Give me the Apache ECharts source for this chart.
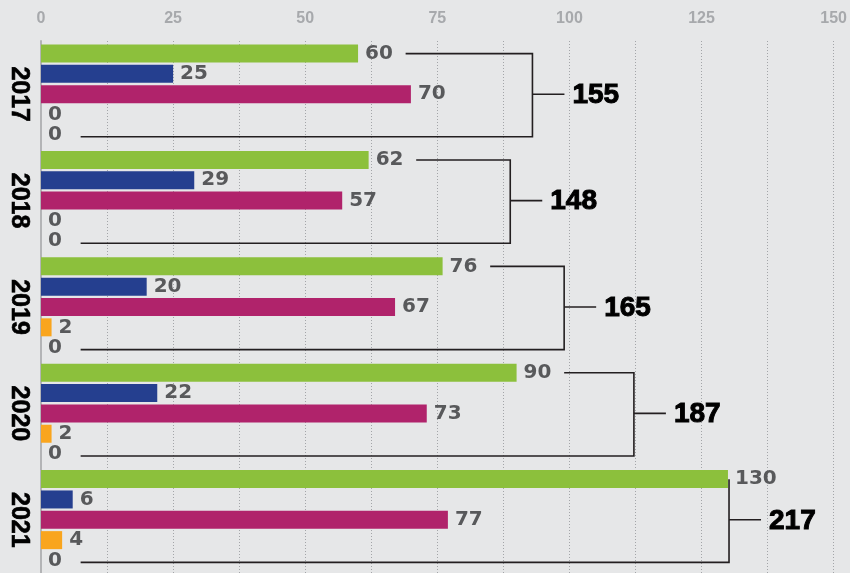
<!DOCTYPE html>
<html>
<head>
<meta charset="utf-8">
<script src="https://cdn.jsdelivr.net/npm/echarts@6/dist/echarts.min.js"></script>
<style>
html,body{margin:0;padding:0;background:#e6e7e8;}
#chart{width:850px;height:573px;}
</style>
</head>
<body>
<div id="chart"></div>
<script>
const years = ['2017', '2018', '2019', '2020', '2021'];
const green = [60, 62, 76, 90, 130];
const blue = [25, 29, 20, 22, 6];
const magenta = [70, 57, 67, 73, 77];
const orange = [0, 0, 2, 2, 4];
const fifth = [0, 0, 0, 0, 0];
const totals = [155, 148, 165, 187, 217];

const chart = echarts.init(document.getElementById('chart'));

const valueLabel = {
  show: true,
  position: 'right',
  distance: 7,
  color: '#58595b',
  fontFamily: 'DejaVu Sans',
  fontWeight: 'bold',
  fontSize: 20
};

function barSeries(name, data, color) {
  return {
    name: name,
    type: 'bar',
    data: data,
    barWidth: 18,
    barGap: '13%',
    itemStyle: { color: color },
    label: valueLabel,
    animation: false,
    z: 3
  };
}

const bracketData = years.map((y, i) => [green[i], i, totals[i]]);
const PITCH = 20.3;

const option = {
  backgroundColor: '#e6e7e8',
  animation: false,
  grid: { left: 41, right: 14, top: 41, height: 540 },
  xAxis: {
    type: 'value',
    position: 'top',
    min: 0,
    max: 150,
    interval: 12.5,
    axisLine: { show: false },
    axisTick: { show: false },
    axisLabel: {
      margin: 14,
      color: '#a7a9ac',
      fontFamily: 'Liberation Sans',
      fontWeight: 'bold',
      fontSize: 16,
      formatter: v => (v % 25 === 0 ? String(v) : '')
    },
    splitLine: { show: true, lineStyle: { color: '#a3a5a8', width: 1, type: [1, 2] } }
  },
  yAxis: {
    type: 'category',
    inverse: true,
    data: years,
    axisLine: { show: true, lineStyle: { color: '#b3b4b6', width: 2 } },
    axisTick: { show: false },
    axisLabel: {
      rotate: -90,
      margin: 10,
      color: '#000',
      fontFamily: 'Liberation Sans',
      fontWeight: 900,
      fontSize: 25,
      textBorderColor: '#000',
      textBorderWidth: 0.6
    }
  },
  series: [
    barSeries('A', green, '#8cc03c'),
    barSeries('B', blue, '#253f8f'),
    barSeries('C', magenta, '#b0236b'),
    barSeries('D', orange, '#f9a51e'),
    barSeries('E', fifth, '#888888'),
    {
      type: 'custom',
      data: bracketData,
      encode: { x: 0, y: 1 },
      clip: false,
      z: 2,
      renderItem: function (params, api) {
        const g = api.value(0);
        const cat = api.value(1);
        const total = api.value(2);
        const c = api.coord([0, cat]);
        const cy = c[1];
        const bx = api.coord([total * 0.6, cat])[0];
        const sx = api.coord([g + 9, cat])[0];
        const bsx = api.coord([7.5, cat])[0];
        const yTop = cy - 2 * PITCH;
        const yBot = cy + 2 * PITCH + 2;
        const pts = sx < bx
          ? [[sx, yTop], [bx, yTop], [bx, yBot], [bsx, yBot]]
          : [[bx, yTop], [bx, yBot], [bsx, yBot]];
        return {
          type: 'group',
          children: [
            { type: 'polyline', shape: { points: pts }, style: { stroke: '#231f20', lineWidth: 1.6, fill: null } },
            { type: 'line', shape: { x1: bx, y1: cy, x2: bx + 32, y2: cy }, style: { stroke: '#231f20', lineWidth: 1.6 } },
            {
              type: 'text',
              x: bx + 40,
              y: cy + 1,
              style: {
                text: String(total),
                fill: '#000',
                stroke: '#000',
                lineWidth: 1,
                fontFamily: 'Liberation Sans',
                fontWeight: 900,
                fontSize: 28,
                align: 'left',
                verticalAlign: 'middle'
              }
            }
          ]
        };
      }
    }
  ]
};
chart.setOption(option);
</script>
</body>
</html>
